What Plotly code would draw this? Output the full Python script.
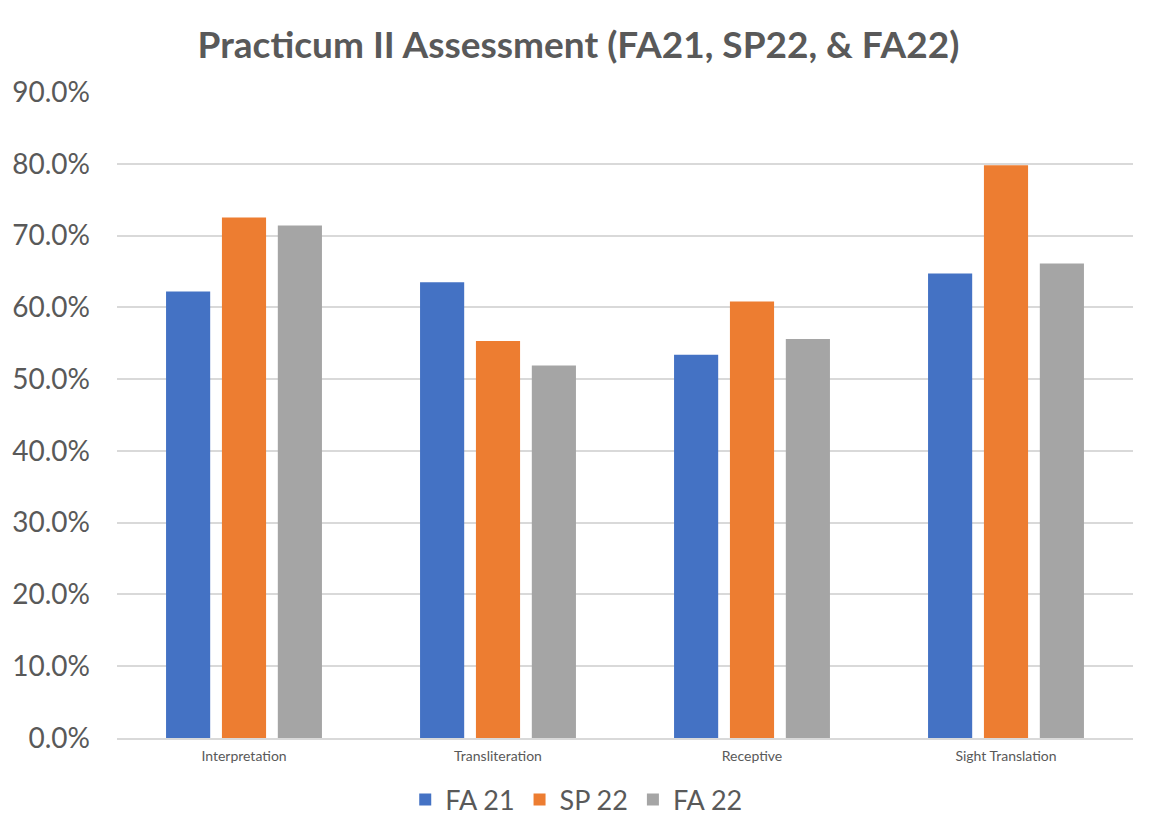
import plotly.graph_objects as go

categories = ["Interpretation", "Transliteration", "Receptive", "Sight Translation"]
fa21 = [0.622, 0.635, 0.534, 0.647]
sp22 = [0.725, 0.553, 0.608, 0.798]
fa22 = [0.714, 0.519, 0.556, 0.661]
series_names = ["FA 21", "SP 22", "FA 22"]
colors = ["#4472C4", "#ED7D31", "#A5A5A5"]
y_ticks = [i / 10 for i in range(10)]

FONT = "Lato, 'Open Sans', sans-serif"
fig = go.Figure()
for name, vals, c in zip(series_names, [fa21, sp22, fa22], colors):
    fig.add_trace(go.Bar(x=categories, y=vals, name=name, marker=dict(color=c, line=dict(width=0))))

fig.update_layout(
    width=1141, height=826,
    paper_bgcolor="white", plot_bgcolor="white",
    margin=dict(l=109, r=16, t=84, b=96, autoexpand=False),
    barmode="group", bargap=0.34, bargroupgap=0.21,
    title=dict(text="<b>Practicum II Assessment (FA21, SP22, & FA22)</b>", x=0.5, xanchor="center",
               y=0.955, yanchor="middle", font=dict(family=FONT, size=37, color="#595959")),
    font=dict(family=FONT, color="#595959"),
    legend=dict(orientation="h", x=0.452, xanchor="center", y=-0.096, yanchor="middle",
                font=dict(size=27, color="#595959"), itemwidth=30, traceorder="normal"),
    showlegend=True,
)
fig.update_yaxes(range=[0, 0.9], tickvals=y_ticks, tickformat=".1%", showgrid=True,
                 gridcolor="#D9D9D9", gridwidth=1.5, zeroline=False, showline=False,
                 tickfont=dict(size=28, color="#595959"), ticklabelstandoff=26)
fig.update_xaxes(showline=True, linecolor="#D9D9D9", linewidth=1.5, showgrid=False,
                 tickfont=dict(size=14, color="#595959"), ticks="", ticklabelstandoff=4)

fig.write_html("out.html")
